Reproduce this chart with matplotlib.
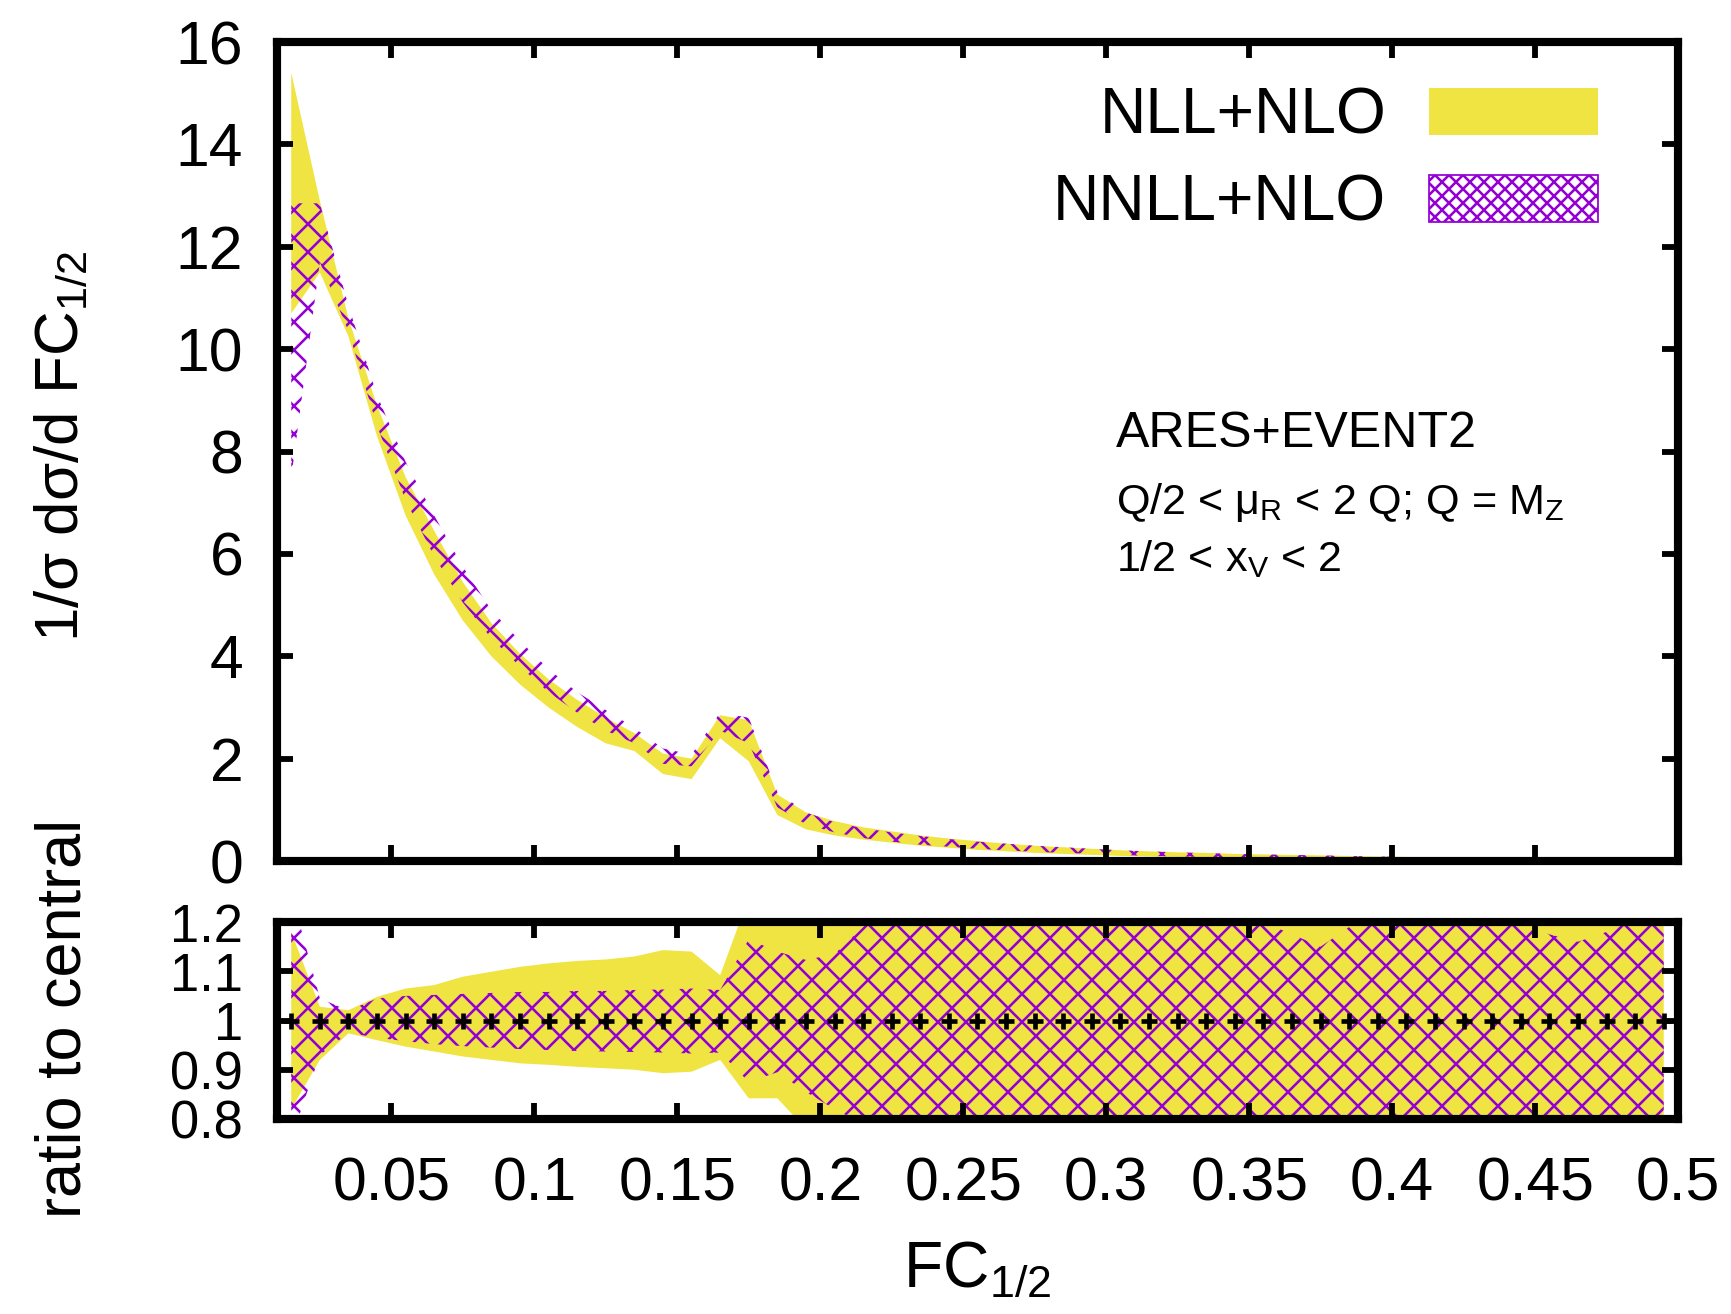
import matplotlib
matplotlib.use('Agg')
import matplotlib.pyplot as plt
import matplotlib.patches as mpatches

plt.rcParams['font.family'] = ['Liberation Sans', 'DejaVu Sans']
plt.rcParams['mathtext.default'] = 'regular'
plt.rcParams['hatch.linewidth'] = 2.2

# bin centres
fc = [0.015, 0.025, 0.035, 0.045, 0.055, 0.065, 0.075, 0.085, 0.095, 0.105,
      0.115, 0.125, 0.135, 0.145, 0.155, 0.165, 0.175, 0.185, 0.195, 0.205,
      0.215, 0.225, 0.235, 0.245, 0.255, 0.265, 0.275, 0.285, 0.295, 0.305,
      0.315, 0.325, 0.335, 0.345, 0.355, 0.365, 0.375, 0.385, 0.395, 0.405,
      0.415, 0.425, 0.435, 0.445, 0.455, 0.465, 0.475, 0.485, 0.495]

# distributions, upper panel
nll_lo = [10.7, 11.5, 10.25, 8.3, 6.75, 5.6, 4.7, 4.0, 3.45, 3.0,
          2.62, 2.3, 2.15, 1.7, 1.6, 2.4, 1.95, 0.9, 0.62, 0.5,
          0.42, 0.36, 0.3, 0.26, 0.22, 0.19, 0.16, 0.14, 0.12, 0.1,
          0.09, 0.08, 0.07, 0.06, 0.05, 0.045, 0.04, 0.035, 0.03, 0.025,
          0.02, 0.018, 0.015, 0.012, 0.01, 0.008, 0.006, 0.005, 0.004]
nll_hi = [15.4, 12.9, 10.6, 8.9, 7.5, 6.45, 5.45, 4.65, 4.05, 3.55,
          3.15, 2.8, 2.5, 2.1, 2.0, 2.85, 2.75, 1.3, 0.95, 0.78,
          0.66, 0.58, 0.5, 0.44, 0.39, 0.34, 0.3, 0.27, 0.24, 0.21,
          0.19, 0.17, 0.16, 0.14, 0.13, 0.12, 0.11, 0.1, 0.09, 0.08,
          0.07, 0.06, 0.05, 0.045, 0.04, 0.035, 0.03, 0.025, 0.02]
nnll_lo = [7.5, 11.7, 10.35, 8.5, 7.05, 5.95, 5.05, 4.35, 3.8, 3.3,
           2.9, 2.55, 2.3, 1.9, 1.85, 2.55, 2.3, 1.05, 0.72, 0.56,
           0.45, 0.38, 0.32, 0.28, 0.24, 0.21, 0.18, 0.16, 0.14, 0.12,
           0.1, 0.09, 0.08, 0.07, 0.06, 0.05, 0.045, 0.04, 0.035, 0.03,
           0.025, 0.02, 0.018, 0.015, 0.012, 0.01, 0.008, 0.006, 0.005]
nnll_hi = [12.85, 12.85, 10.85, 9.1, 7.8, 6.75, 5.75, 4.9, 4.3, 3.75,
           3.3, 2.95, 2.6, 2.2, 2.08, 2.9, 2.8, 1.35, 0.95, 0.76,
           0.64, 0.56, 0.49, 0.43, 0.38, 0.34, 0.3, 0.27, 0.24, 0.21,
           0.19, 0.17, 0.155, 0.14, 0.13, 0.12, 0.11, 0.1, 0.09, 0.08,
           0.07, 0.06, 0.05, 0.045, 0.04, 0.035, 0.03, 0.025, 0.02]

# ratio to central, lower panel
r_nll_lo = [0.82, 0.92, 0.974, 0.96, 0.947, 0.937, 0.927, 0.92, 0.913, 0.91,
            0.906, 0.903, 0.9, 0.893, 0.896, 0.92, 0.842, 0.842, 0.78, 0.75,
            0.75, 0.75, 0.75, 0.75, 0.75, 0.75, 0.75, 0.75, 0.75, 0.75,
            0.75, 0.75, 0.75, 0.75, 0.75, 0.75, 0.75, 0.75, 0.75, 0.75,
            0.75, 0.75, 0.75, 0.75, 0.75, 0.75, 0.75, 0.75, 0.75]
r_nll_hi = [1.18, 1.028, 1.021, 1.048, 1.065, 1.072, 1.089, 1.099, 1.109, 1.116,
            1.121, 1.124, 1.13, 1.143, 1.14, 1.092, 1.25, 1.25, 1.25, 1.25,
            1.25, 1.25, 1.25, 1.25, 1.25, 1.25, 1.25, 1.25, 1.25, 1.25,
            1.25, 1.25, 1.25, 1.25, 1.25, 1.25, 1.25, 1.25, 1.25, 1.25,
            1.25, 1.25, 1.25, 1.25, 1.25, 1.25, 1.25, 1.25, 1.25]
r_nnll_lo = [0.76, 0.93, 0.975, 0.965, 0.958, 0.952, 0.948, 0.945, 0.942, 0.94,
             0.938, 0.937, 0.936, 0.935, 0.933, 0.935, 0.875, 0.895, 0.855, 0.82,
             0.79, 0.75, 0.75, 0.75, 0.75, 0.75, 0.75, 0.75, 0.75, 0.75,
             0.75, 0.75, 0.75, 0.75, 0.75, 0.75, 0.75, 0.75, 0.75, 0.75,
             0.75, 0.75, 0.75, 0.75, 0.75, 0.75, 0.75, 0.75, 0.75]
r_nnll_hi = [1.26, 1.045, 1.02, 1.045, 1.05, 1.052, 1.054, 1.056, 1.058, 1.058,
             1.06, 1.06, 1.062, 1.063, 1.065, 1.062, 1.165, 1.14, 1.123, 1.135,
             1.19, 1.25, 1.25, 1.25, 1.25, 1.25, 1.25, 1.25, 1.25, 1.25,
             1.25, 1.25, 1.25, 1.25, 1.2, 1.175, 1.15, 1.19, 1.25, 1.21,
             1.19, 1.22, 1.25, 1.2, 1.175, 1.16, 1.18, 1.25, 1.25]
central = [1.0] * len(fc)

xticks = [0.05, 0.1, 0.15, 0.2, 0.25, 0.3, 0.35, 0.4, 0.45, 0.5]
xticklabels = ['0.05', '0.1', '0.15', '0.2', '0.25', '0.3', '0.35', '0.4', '0.45', '0.5']
yticks_main = [0, 2, 4, 6, 8, 10, 12, 14, 16]
yticks_ratio = [0.8, 0.9, 1.0, 1.1, 1.2]
yticklabels_ratio = ['0.8', '0.9', '1', '1.1', '1.2']

yellow = '#F0E442'
purple = '#9400D3'

DPI = 84
fig = plt.figure(figsize=(1731 / DPI, 1314 / DPI), dpi=DPI)
ax = fig.add_axes([0.16, 0.3447, 0.8094, 0.6233])
axr = fig.add_axes([0.16, 0.1484, 0.8094, 0.1499])


def style(a):
    for s in a.spines.values():
        s.set_linewidth(7)
    a.tick_params(direction='in', length=14, width=5, top=True, right=True,
                  labelsize=52, pad=29)
    a.tick_params(axis='x', pad=32)


# upper panel
ax.fill_between(fc, nll_lo, nll_hi, facecolor=yellow, edgecolor='none',
                linewidth=0)
ax.fill_between(fc, nnll_lo, nnll_hi, facecolor='none', edgecolor=purple,
                hatch='x', linewidth=0)
ax.set_xlim(0.01, 0.5)
ax.set_ylim(0, 16)
ax.set_xticks(xticks)
ax.set_xticklabels([])
ax.set_yticks(yticks_main)
style(ax)

h_nll = mpatches.Patch(facecolor=yellow, edgecolor='none', label='NLL+NLO')
h_nnll = mpatches.Patch(facecolor='white', edgecolor=purple, hatch='xx',
                        linewidth=1.5, label='NNLL+NLO')
leg = ax.legend(handles=[h_nll, h_nnll], loc='upper right',
                bbox_to_anchor=(0.975, 1.0), frameon=False,
                markerfirst=False, fontsize=55, handlelength=2.63,
                handleheight=0.73, handletextpad=0.67, labelspacing=0.42,
                borderaxespad=0.3)

ax.text(0.3035, 8.35, 'ARES+EVENT2', fontsize=43, va='center', ha='left')
ax.text(0.3035, 7.0, 'Q/2 < $\u03bc_R$ < 2 Q; Q = $M_Z$', fontsize=37,
        va='center', ha='left')
ax.text(0.3035, 5.9, '1/2 < $x_V$ < 2', fontsize=37, va='center', ha='left')

# lower panel
axr.fill_between(fc, r_nll_lo, r_nll_hi, facecolor=yellow, edgecolor='none',
                 linewidth=0)
axr.fill_between(fc, r_nnll_lo, r_nnll_hi, facecolor='none', edgecolor=purple,
                 hatch='x', linewidth=0)
axr.plot(fc, central, linestyle='none', marker='+', color='black',
         markersize=14, markeredgewidth=4)
axr.set_xlim(0.01, 0.5)
axr.set_ylim(0.8, 1.2)
axr.set_xticks(xticks)
axr.set_xticklabels(xticklabels)
axr.set_yticks(yticks_ratio)
axr.set_yticklabels(yticklabels_ratio)
style(axr)
axr.tick_params(axis='y', labelsize=45)

fig.text(0.036, 0.66, '1/\u03c3 d\u03c3/d FC$_{1/2}$', rotation=90,
         fontsize=53, ha='center', va='center')
fig.text(0.037, 0.2253, 'ratio to central', rotation=90, fontsize=54,
         ha='center', va='center')
fig.text(0.5644, 0.0205, 'FC$_{1/2}$', fontsize=55, ha='center',
         va='baseline')

fig.savefig('out.png', dpi=DPI)
